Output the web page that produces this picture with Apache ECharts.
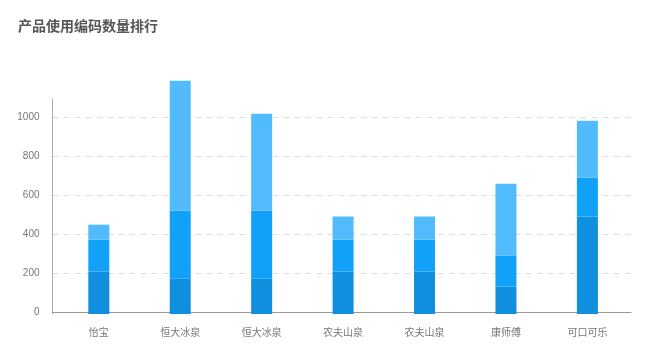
<!DOCTYPE html>
<html>
<head>
<meta charset="utf-8">
<script src="https://cdn.jsdelivr.net/npm/echarts@6/dist/echarts.min.js"></script>
<style>html,body{margin:0;padding:0;background:#fff;}#c{width:650px;height:355px;}</style>
</head>
<body>
<div id="c"></div>
<script>
const titleText = '产品使用编码数量排行';
const categories = ['怡宝', '恒大冰泉', '恒大冰泉', '农夫山泉', '农夫山泉', '康师傅', '可口可乐'];
const seriesA = [218, 181, 181, 218, 218, 140, 499];
const seriesB = [163, 349, 349, 163, 163, 159, 200];
const seriesC = [77, 666, 497, 119, 119, 369, 292];
const yTicks = [0, 200, 400, 600, 800, 1000];

const FONT = "'Liberation Sans', 'Noto Sans CJK SC', sans-serif";
const chart = echarts.init(document.getElementById('c'), null, {renderer: 'canvas'});
const barStyle = (color) => ({
  type: 'bar', stack: 'total', barWidth: 21, xAxisIndex: 0, yAxisIndex: 0,
  clip: false, itemStyle: {color: color}, emphasis: {disabled: true}
});
chart.setOption({
  animation: false,
  backgroundColor: '#fff',
  title: {
    text: titleText, left: 13, top: 15,
    textStyle: {fontSize: 14, fontWeight: 'bold', color: '#555', fontFamily: FONT}
  },
  grid: [
    {left: 58.1, right: 21.9, top: 99.5, bottom: 41},
    {left: 52.5, right: 19, top: 98, bottom: 42.7}
  ],
  xAxis: [
    {
      type: 'category', gridIndex: 0, data: categories,
      axisLine: {show: false}, axisTick: {show: false},
      axisLabel: {color: '#777', fontSize: 10, margin: 14, fontFamily: FONT}
    },
    {
      type: 'value', gridIndex: 1, min: 0, max: 1, offset: 2,
      axisLine: {show: true, lineStyle: {color: '#999', width: 1}},
      axisTick: {show: false}, axisLabel: {show: false}, splitLine: {show: false}
    }
  ],
  yAxis: [
    {
      type: 'value', gridIndex: 0, min: 0, max: 1100, interval: 200, offset: 5.6,
      axisLine: {show: true, lineStyle: {color: '#aaa', width: 1}},
      axisTick: {show: false}, axisLabel: {show: false}, splitLine: {show: false}
    },
    {
      type: 'value', gridIndex: 1, min: 0, max: 1100, interval: 200,
      axisLine: {show: false}, axisTick: {show: false},
      axisLabel: {
        color: '#777', fontSize: 10, margin: 13, fontFamily: FONT,
        showMaxLabel: false,
        formatter: (v) => yTicks.indexOf(v) >= 0 ? String(v) : ''
      },
      splitLine: {show: true, showMinLine: false, showMaxLine: false,
        lineStyle: {color: '#ddd', type: [6, 5], width: 1}}
    }
  ],
  series: [
    Object.assign(barStyle('#118fdf'), {name: 'A', data: seriesA}),
    Object.assign(barStyle('#12a1f8'), {name: 'B', data: seriesB}),
    Object.assign(barStyle('#52bbfd'), {name: 'C', data: seriesC})
  ]
});
</script>
</body>
</html>
